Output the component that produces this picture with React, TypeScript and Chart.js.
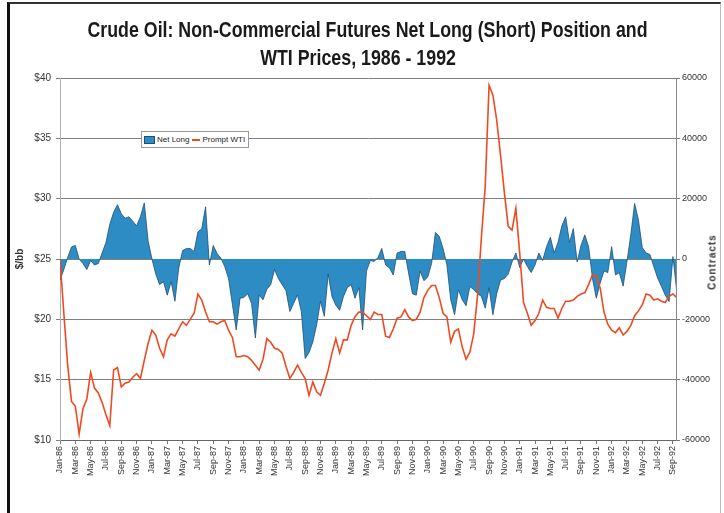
import React, { useEffect, useLayoutEffect, useRef } from 'react';
import { Chart, registerables } from 'chart.js';

Chart.register(...registerables);

// X-axis tick labels (every second month, Jan-86 .. Sep-92)
const tickLabels = [
  'Jan-86', 'Mar-86', 'May-86', 'Jul-86', 'Sep-86', 'Nov-86',
  'Jan-87', 'Mar-87', 'May-87', 'Jul-87', 'Sep-87', 'Nov-87',
  'Jan-88', 'Mar-88', 'May-88', 'Jul-88', 'Sep-88', 'Nov-88',
  'Jan-89', 'Mar-89', 'May-89', 'Jul-89', 'Sep-89', 'Nov-89',
  'Jan-90', 'Mar-90', 'May-90', 'Jul-90', 'Sep-90', 'Nov-90',
  'Jan-91', 'Mar-91', 'May-91', 'Jul-91', 'Sep-91', 'Nov-91',
  'Jan-92', 'Mar-92', 'May-92', 'Jul-92', 'Sep-92',
];

// Observations every half month starting Jan-86
const STEP_MONTHS = 0.5;

// Prompt WTI price, $/bbl
const promptWTI = [
  25.0, 20.5, 16.2, 13.2, 12.8, 10.5, 12.6, 13.4, 15.6, 14.3,
  13.9, 13.1, 12.1, 11.2, 15.8, 16.0, 14.4, 14.7, 14.8, 15.2,
  15.5, 15.1, 16.6, 18.0, 19.1, 18.7, 17.6, 16.9, 18.3, 18.8,
  18.6, 19.2, 19.8, 19.5, 20.0, 20.5, 22.1, 21.6, 20.6, 19.8,
  19.8, 19.6, 19.8, 19.9, 19.1, 18.5, 16.9, 16.9, 17.0, 16.9,
  16.6, 16.2, 15.8, 16.7, 18.4, 18.1, 17.6, 17.5, 17.2, 16.1,
  15.1, 15.6, 16.2, 15.6, 15.1, 13.7, 14.8, 14.0, 13.7, 14.7,
  15.8, 17.2, 18.4, 17.2, 18.3, 18.3, 19.5, 20.2, 20.6, 20.6,
  20.3, 20.0, 20.6, 20.4, 20.4, 18.6, 18.5, 19.2, 20.1, 20.2,
  20.8, 20.2, 19.9, 20.0, 20.6, 21.8, 22.4, 22.8, 22.8, 21.8,
  20.5, 20.2, 18.1, 19.0, 19.2, 17.7, 16.7, 17.3, 18.8, 22.0,
  26.8, 31.0, 39.4, 38.6, 36.5, 33.6, 30.5, 27.7, 27.4, 29.2,
  25.5, 21.4, 20.5, 19.5, 19.9, 20.5, 21.6, 21.0, 20.9, 20.9,
  20.1, 20.9, 21.5, 21.5, 21.6, 21.9, 22.1, 22.2, 22.9, 23.7,
  23.6, 22.6, 20.6, 19.6, 19.1, 18.9, 19.3, 18.7, 19.0, 19.5,
  20.3, 20.7, 21.2, 22.1, 22.0, 21.6, 21.7, 21.5, 21.4, 21.9,
  22.1, 21.8,
];

// Non-commercial net long (short) position, contracts
const netLong = [
  -7000, -3500, 500, 4000, 4500, 0, -1500, -3500, -500, -2000,
  -1500, 2000, 5500, 11500, 15500, 18000, 15000, 13500, 14000, 12500,
  11000, 14000, 18600, 6000, 0, -5000, -8500, -7500, -12000, -7500,
  -14000, -3000, 2800, 3500, 3500, 2500, 9000, 10000, 17300, -2000,
  4500, 1800, 300, -2500, -6500, -15000, -23500, -13000, -12800, -11500,
  -14700, -26200, -12000, -13500, -10000, -8500, -3500, -6500, -8500, -10500,
  -17400, -14700, -11900, -17400, -33000, -31000, -27500, -21800, -14000, -19000,
  -5000, -12500, -15300, -17000, -12400, -9500, -8500, -13000, -9500, -23500,
  -4000, -500, -800, 500, 3500, -2000, -3000, -5300, 2000, 2500,
  2500, -4700, -11500, -12000, -4000, -7200, -6000, -1500, 8800, 7500,
  3500, -2000, -13500, -18500, -10200, -13500, -15500, -9100, -10200, -11500,
  -12400, -16300, -9500, -18500, -11500, -7000, -6500, -5000, -1000, 2000,
  -2800, 0, -2500, -4500, -2000, 2000, -500, 4100, 7200, 2000,
  5500, 11000, 14000, 5500, 10100, -1000, 4500, 8000, 4000, -6500,
  -13000, -8000, -4000, -4500, 4100, -5300, -4500, -9000, -800, 8000,
  18400, 12900, 3800, 2000, 1500, -2500, -6300, -9100, -12000, -14100,
  800, -10800,
];

const FONT = "'Liberation Sans', Arial, Helvetica, sans-serif";

export default function App() {
  const ref = useRef<HTMLCanvasElement>(null);
  const t1 = useRef<HTMLSpanElement>(null);
  const t2 = useRef<HTMLSpanElement>(null);

  useLayoutEffect(() => {
    if (!t1.current || !t2.current) return;
    const w = t1.current.offsetWidth || 1;
    const s = 560 / w;
    t1.current.style.transform = `scaleX(${s})`;
    t2.current.style.transform = `scaleX(${s})`;
  }, []);

  useEffect(() => {
    const canvas = ref.current;
    if (!canvas) return;
    const chart = new Chart(canvas, {
      type: 'line',
      data: {
        datasets: [
          {
            label: 'Net Long',
            data: netLong.map((v, i) => ({ x: i * STEP_MONTHS, y: v })),
            yAxisID: 'y1',
            fill: 'origin',
            backgroundColor: '#2E8CC5',
            borderColor: '#1E4F74',
            borderWidth: 0.8,
            pointRadius: 0,
            tension: 0,
            order: 1,
          },
          {
            label: 'Prompt WTI',
            data: promptWTI.map((v, i) => ({ x: i * STEP_MONTHS, y: v })),
            yAxisID: 'y',
            fill: false,
            borderColor: '#EE4A22',
            borderWidth: 1.6,
            pointRadius: 0,
            tension: 0,
            order: 0,
          },
        ],
      },
      options: {
        animation: false,
        responsive: false,
        layout: { padding: { top: 78, left: 14, right: 0, bottom: 0 } },
        plugins: {
          legend: { display: false },
          tooltip: { enabled: false },
          title: { display: false },
        },
        scales: {
          x: {
            type: 'linear',
            min: 0,
            max: 80.4,
            grid: { drawOnChartArea: false, drawTicks: true, tickLength: 4, color: '#777' },
            border: { color: '#666' },
            ticks: {
              autoSkip: false,
              maxRotation: 90,
              minRotation: 90,
              padding: 2,
              color: '#333',
              font: { family: FONT, size: 9 },
              callback: (v: any) => tickLabels[Math.round(Number(v) / 2)] ?? '',
            },
            afterBuildTicks: (s: any) => {
              s.ticks = tickLabels.map((_, i) => ({ value: i * 2 }));
            },
            afterFit: (s: any) => {
              s.height = 73;
            },
          },
          y: {
            position: 'left',
            min: 10,
            max: 40,
            ticks: {
              stepSize: 5,
              padding: 5,
              color: '#333',
              font: { family: FONT, size: 10 },
              callback: (v: any) => '$' + v,
            },
            grid: { color: '#808080', tickLength: 4, lineWidth: 1 },
            border: { color: '#b0b0b0' },
            title: {
              display: true,
              text: '$/bb',
              color: '#333',
              padding: 0,
              font: { family: FONT, size: 10, weight: 'bold' },
            },
            afterFit: (s: any) => {
              s.width = 46;
            },
          },
          y1: {
            position: 'right',
            min: -60000,
            max: 60000,
            ticks: {
              stepSize: 20000,
              padding: 2,
              color: '#333',
              font: { family: FONT, size: 9 },
              callback: (v: any) => String(v),
            },
            grid: { drawOnChartArea: false, tickLength: 4, color: '#777' },
            border: { color: '#888' },
            afterFit: (s: any) => {
              s.width = 48;
            },
          },
        },
      },
    });
    return () => chart.destroy();
  }, []);

  const titleLine: React.CSSProperties = {
    position: 'absolute', left: 0, width: 724, textAlign: 'center',
    fontFamily: FONT, fontWeight: 'bold', fontSize: 22, lineHeight: '26px', color: '#1a1a1a', whiteSpace: 'nowrap',
  };

  return (
    <div style={{ position: 'fixed', left: 0, top: 0, width: 724, height: 513, background: '#fff', overflow: 'hidden' }}>
      <div
        style={{
          position: 'absolute', left: 7, top: 2, width: 710, height: 530,
          borderLeft: '3px solid #111', borderTop: '2px solid #333', borderRight: '1px solid #bbb',
        }}
      />
      <canvas ref={ref} width={724} height={513} style={{ position: 'absolute', left: 0, top: 0 }} />
      <div style={{ ...titleLine, top: 17, left: 6 }}>
        <span ref={t1} style={{ display: 'inline-block', transformOrigin: 'center' }}>
          Crude Oil: Non-Commercial Futures Net Long (Short) Position and
        </span>
      </div>
      <div style={{ ...titleLine, top: 45, left: -4 }}>
        <span ref={t2} style={{ display: 'inline-block', transformOrigin: 'center' }}>
          WTI Prices, 1986 - 1992
        </span>
      </div>
      <div
        style={{
          position: 'absolute', left: 141, top: 131, width: 106, height: 15,
          border: '1px solid #999', background: '#fff', display: 'flex', alignItems: 'center',
          fontFamily: FONT, fontSize: 8, color: '#222', whiteSpace: 'nowrap',
        }}
      >
        <span style={{ display: 'inline-block', width: 9, height: 6, background: '#2E8CC5', border: '1px solid #1E4F74', marginLeft: 2, marginRight: 2 }} />
        <span>Net Long</span>
        <span style={{ display: 'inline-block', width: 8, height: 2, background: '#EE4A22', marginLeft: 3, marginRight: 2 }} />
        <span>Prompt WTI</span>
      </div>
      <div
        style={{
          position: 'absolute', left: 712, top: 262, transform: 'translate(-50%, -50%) rotate(-90deg)',
          fontFamily: FONT, fontWeight: 'bold', fontSize: 10, letterSpacing: 1, color: '#333', whiteSpace: 'nowrap',
        }}
      >
        Contracts
      </div>
    </div>
  );
}
